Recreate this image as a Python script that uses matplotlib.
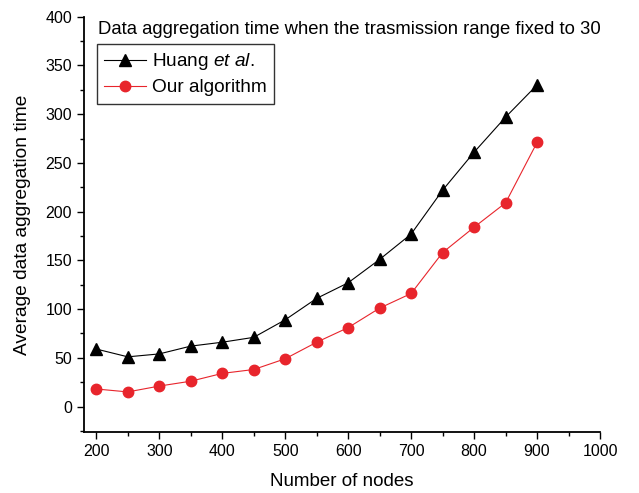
import matplotlib.pyplot as plt
from matplotlib.ticker import MultipleLocator

plt.rcParams["font.family"] = ["Liberation Sans", "DejaVu Sans"]
plt.rcParams["mathtext.fontset"] = "custom"
plt.rcParams["mathtext.it"] = "Liberation Sans:italic"
plt.rcParams["mathtext.rm"] = "Liberation Sans"

nodes = [200, 250, 300, 350, 400, 450, 500, 550, 600, 650, 700, 750, 800, 850, 900]
huang = [59, 51, 54, 62, 66, 71, 89, 111, 127, 151, 177, 222, 261, 297, 330]
ours = [18, 15, 21, 26, 34, 38, 49, 66, 81, 101, 116, 158, 184, 209, 271]

fig = plt.figure(figsize=(6.39, 4.93), dpi=100)
ax = fig.add_axes([0.131, 0.124, 0.808, 0.842])

ax.plot(nodes, huang, color="black", linewidth=0.8, marker="^", markersize=8.5,
        label="Huang $\\it{et\\ al.}$")
ax.plot(nodes, ours, color="#e8252c", linewidth=0.8, marker="o", markersize=7.5,
        label="Our algorithm")

ax.set_xlim(180, 1000)
ax.set_ylim(-26, 400)
ax.xaxis.set_major_locator(MultipleLocator(100))
ax.xaxis.set_minor_locator(MultipleLocator(50))
ax.yaxis.set_major_locator(MultipleLocator(50))
ax.yaxis.set_minor_locator(MultipleLocator(25))
ax.tick_params(which="major", direction="out", length=5, width=1, labelsize=11.5)
ax.tick_params(which="minor", direction="out", length=3, width=1)

for side in ["top", "right"]:
    ax.spines[side].set_visible(False)
for side in ["left", "bottom"]:
    ax.spines[side].set_linewidth(1.3)

ax.set_xlabel("Number of nodes", fontsize=13.5, labelpad=10)
ax.set_ylabel("Average data aggregation time", fontsize=13.8, labelpad=10)
ax.text(0.027, 0.99, "Data aggregation time when the trasmission range fixed to 30",
        transform=ax.transAxes, fontsize=13.3, va="top", ha="left")

leg = ax.legend(loc="upper left", bbox_to_anchor=(0.025, 0.935), fontsize=13.7,
                frameon=True, fancybox=False, edgecolor="black",
                handlelength=2.2, borderpad=0.4, labelspacing=0.35,
                handletextpad=0.3, borderaxespad=0)
leg.get_frame().set_linewidth(1.0)

fig.savefig("out.png", dpi=100)
